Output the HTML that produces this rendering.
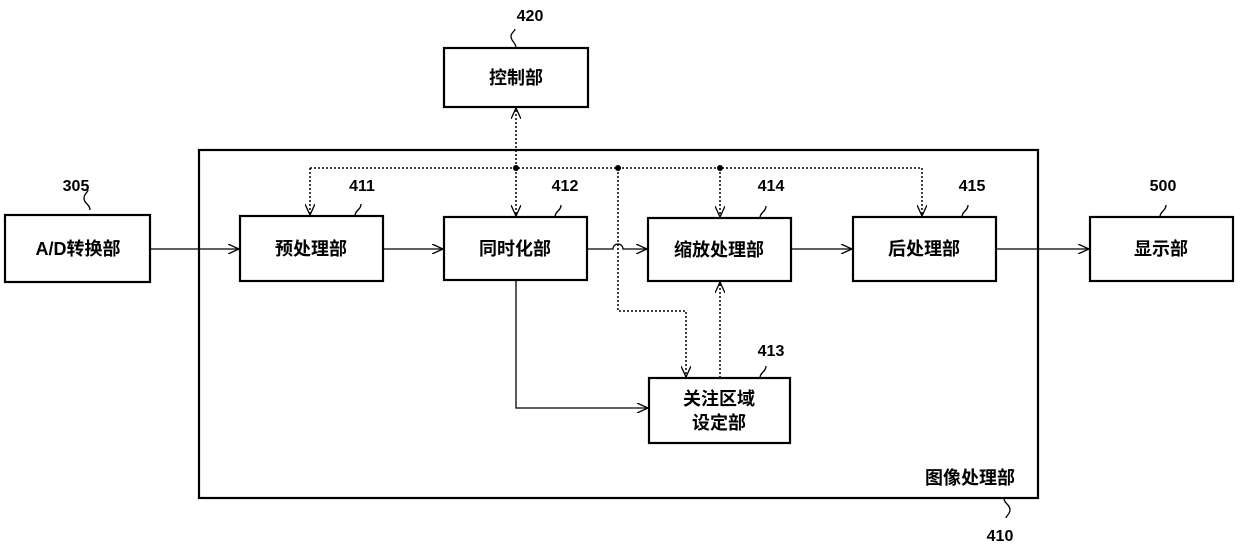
<!DOCTYPE html>
<html><head><meta charset="utf-8"><style>
body{margin:0;background:#fff}
svg text{font-family:"Liberation Sans","Noto Sans CJK SC",sans-serif;font-weight:bold;fill:#000}
</style></head><body>
<svg width="1240" height="545" viewBox="0 0 1240 545" xmlns="http://www.w3.org/2000/svg">
<defs>
<marker id="a" markerWidth="12" markerHeight="10" refX="11" refY="5" orient="auto" markerUnits="userSpaceOnUse">
<path d="M0,0 L11,5 L0,10" fill="none" stroke="#000" stroke-width="1.3"/></marker>
</defs>
<g fill="none" stroke="#000" stroke-width="2.2">
<rect x="199" y="150" width="839" height="348"/>
<rect x="444" y="48" width="144" height="59"/>
<rect x="5" y="215" width="145" height="67"/>
<rect x="240" y="216" width="143" height="65"/>
<rect x="444" y="217" width="143" height="63"/>
<rect x="648" y="218" width="143" height="63"/>
<rect x="853" y="217" width="143" height="64"/>
<rect x="1090" y="217" width="143" height="64"/>
<rect x="649" y="378" width="141" height="65"/>
</g>
<g fill="none" stroke="#000" stroke-width="1.3">
<line x1="150" y1="249" x2="239" y2="249" marker-end="url(#a)"/>
<line x1="383" y1="249" x2="443" y2="249" marker-end="url(#a)"/>
<path d="M587,249 H613 A5,5 0 0 1 623,249 H647" marker-end="url(#a)"/>
<line x1="791" y1="249" x2="852" y2="249" marker-end="url(#a)"/>
<line x1="996" y1="249" x2="1089" y2="249" marker-end="url(#a)"/>
<path d="M516,280 V408 H648" marker-end="url(#a)"/>
<path d="M90,210 c0,-6 -6,-6 -6,-12 c0,-4 4,-6 4,-8"/>
<path d="M355,216 c0,-6 6,-6 6,-12"/>
<path d="M555,217 c0,-6 6,-6 6,-12"/>
<path d="M760,218 c0,-6 6,-6 6,-12"/>
<path d="M962,217 c0,-6 6,-6 6,-12"/>
<path d="M1160,217 c0,-6 6,-6 6,-12"/>
<path d="M760,378 c0,-6 6,-6 6,-12"/>
<path d="M516,48 c0,-6 -5,-6 -5,-12 c0,-3 4,-5 4,-7"/>
<path d="M1004,498 c0,6 6,6 6,12 c0,4 -4,6 -4,8"/>
</g>
<g fill="none" stroke="#000" stroke-width="1.5" stroke-dasharray="2,2">
<line x1="310" y1="168" x2="922" y2="168"/>
<line x1="310" y1="168" x2="310" y2="215" marker-end="url(#a)"/>
<line x1="922" y1="168" x2="922" y2="216" marker-end="url(#a)"/>
<line x1="720" y1="168" x2="720" y2="217" marker-end="url(#a)"/>
<line x1="516" y1="168" x2="516" y2="216" marker-end="url(#a)"/>
<line x1="516" y1="168" x2="516" y2="108" marker-end="url(#a)"/>
<path d="M618,168 V311 H686 V377" marker-end="url(#a)"/>
<line x1="720" y1="378" x2="720" y2="282" marker-end="url(#a)"/>
</g>
<g fill="#000"><circle cx="516" cy="168" r="3"/><circle cx="618" cy="168" r="3"/><circle cx="720" cy="168" r="3"/></g>
<g font-size="18" text-anchor="middle">
<text x="516" y="84">控制部</text>
<text x="78" y="255">A/D转换部</text>
<text x="311" y="255">预处理部</text>
<text x="515" y="255">同时化部</text>
<text x="719" y="256">缩放处理部</text>
<text x="924" y="255">后处理部</text>
<text x="1161" y="255">显示部</text>
<text x="719" y="405">关注区域</text>
<text x="719" y="429">设定部</text>
<text x="970" y="484">图像处理部</text>
</g>
<g font-size="16" text-anchor="middle">
<text x="530" y="21">420</text>
<text x="76" y="191">305</text>
<text x="362" y="191">411</text>
<text x="565" y="191">412</text>
<text x="771" y="191">414</text>
<text x="972" y="191">415</text>
<text x="1163" y="191">500</text>
<text x="771" y="356">413</text>
<text x="1000" y="541">410</text>
</g>
</svg>
</body></html>
